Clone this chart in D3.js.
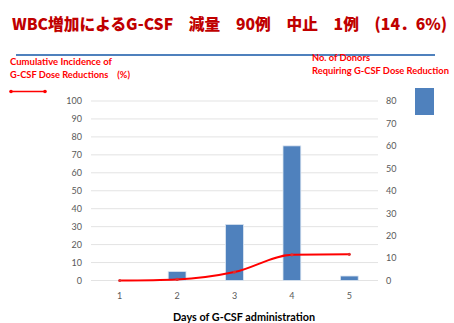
<!DOCTYPE html>
<html>
<head>
<meta charset="utf-8">
<script src="https://cdn.jsdelivr.net/npm/d3@7"></script>
<style>
  body { margin: 0; background: #fff; }
  text { font-family: Lato, "Open Sans", sans-serif; }
</style>
</head>
<body>
<script>
const days = ["1", "2", "3", "4", "5"];
const donors = [0, 4, 25, 60, 2];            // right axis, bars
const cumulative = [0, 0.6, 4.7, 14.3, 14.6]; // left axis, %
const leftTicks = [0, 10, 20, 30, 40, 50, 60, 70, 80, 90, 100];
const rightTicks = [0, 10, 20, 30, 40, 50, 60, 70, 80];

const w = 454, h = 323;
const plotLeft = 91, plotRight = 378, plotTop = 101, plotBottom = 280.5;

const svg = d3.select("body").append("svg")
    .attr("width", w)
    .attr("height", h);

// title + rule
svg.append("text")
    .attr("x", 12)
    .attr("y", 30)
    .attr("textLength", 435)
    .attr("lengthAdjust", "spacingAndGlyphs")
    .style("font-family", "'Noto Sans CJK JP', sans-serif")
    .style("font-size", "16px")
    .style("font-weight", "900")
    .style("fill", "#c00000")
    .text("WBC増加によるG-CSF　減量　90例　中止　1例　(14．6%)");

svg.append("line")
    .attr("x1", 16).attr("x2", 435)
    .attr("y1", 55).attr("y2", 55)
    .style("stroke", "#4f81bd")
    .style("stroke-width", 2);

const xScale = d3.scaleBand()
    .domain(days)
    .range([plotLeft, plotRight])
    .paddingInner(0.69)
    .paddingOuter(0.345);

const yLeft = d3.scaleLinear().domain([0, 100]).range([plotBottom, plotTop]);
const yRight = d3.scaleLinear().domain([0, 80]).range([plotBottom, plotTop]);

// gridlines
svg.append("g").selectAll("line")
    .data(leftTicks)
    .enter()
    .append("line")
    .attr("x1", plotLeft).attr("x2", plotRight)
    .attr("y1", d => yLeft(d)).attr("y2", d => yLeft(d))
    .style("stroke", "#e3e3e3")
    .style("stroke-width", 1);

const yAxisL = d3.axisLeft(yLeft).tickValues(leftTicks).tickSize(0).tickPadding(9);
const yAxisR = d3.axisRight(yRight).tickValues(rightTicks).tickSize(0).tickPadding(8);
const xAxis = d3.axisBottom(xScale).tickSize(0).tickPadding(12);

const gl = svg.append("g").attr("transform", "translate(" + plotLeft + ",0)").call(yAxisL);
const gr = svg.append("g").attr("transform", "translate(" + plotRight + ",0)").call(yAxisR);
const gx = svg.append("g").attr("transform", "translate(0," + plotBottom + ")").call(xAxis);
[gl, gr, gx].forEach(g => {
    g.select(".domain").remove();
    g.selectAll("text")
        .style("font-family", "Lato, sans-serif")
        .style("font-size", "9px")
        .style("fill", "#595959");
});

// bars
svg.append("g").selectAll("rect")
    .data(donors)
    .enter()
    .append("rect")
    .attr("x", (d, i) => xScale(days[i]))
    .attr("y", d => yRight(d))
    .attr("width", xScale.bandwidth())
    .attr("height", d => plotBottom - yRight(d))
    .style("fill", "#4f81bd")
    .style("stroke", d => d > 0 ? "#dbe5f1" : "none")
    .style("stroke-width", 0.8);

// cumulative line
const line = d3.line()
    .x((d, i) => xScale(days[i]) + xScale.bandwidth() / 2)
    .y(d => yLeft(d))
    .curve(d3.curveMonotoneX);

svg.append("path")
    .datum(cumulative)
    .attr("d", line)
    .style("fill", "none")
    .style("stroke", "#ff0000")
    .style("stroke-width", 2);

svg.append("g").selectAll("circle")
    .data(cumulative)
    .enter()
    .append("circle")
    .attr("cx", (d, i) => xScale(days[i]) + xScale.bandwidth() / 2)
    .attr("cy", d => yLeft(d))
    .attr("r", 1.6)
    .style("fill", "#e03030");

// left legend
const legL = svg.append("g").style("fill", "#ff0000").style("font-size", "9.5px").style("font-weight", "bold");
legL.append("text").attr("x", 10).attr("y", 65).attr("textLength", 102).attr("lengthAdjust", "spacingAndGlyphs")
    .text("Cumulative Incidence of");
legL.append("text").attr("x", 10).attr("y", 78).attr("textLength", 120).attr("lengthAdjust", "spacingAndGlyphs")
    .text("G-CSF Dose Reductions\u00a0\u00a0\u00a0\u00a0(%)");
svg.append("line")
    .attr("x1", 11).attr("x2", 45).attr("y1", 91.5).attr("y2", 91.5)
    .style("stroke", "#ff0000").style("stroke-width", 1.5);
[11, 45].forEach(x => svg.append("circle").attr("cx", x).attr("cy", 91.5).attr("r", 1.8).style("fill", "#ff0000"));

// right legend
const legR = svg.append("g").style("fill", "#ff0000").style("font-size", "9.5px").style("font-weight", "bold");
legR.append("text").attr("x", 312).attr("y", 61).attr("textLength", 58).attr("lengthAdjust", "spacingAndGlyphs")
    .text("No. of Donors");
legR.append("text").attr("x", 312).attr("y", 74).attr("textLength", 137).attr("lengthAdjust", "spacingAndGlyphs")
    .text("Requiring G-CSF Dose Reduction");
svg.append("rect")
    .attr("x", 415).attr("y", 88).attr("width", 19).attr("height", 27)
    .style("fill", "#4f81bd");

// x-axis title
svg.append("text")
    .attr("x", 244)
    .attr("y", 321)
    .attr("text-anchor", "middle")
    .attr("textLength", 142)
    .attr("lengthAdjust", "spacingAndGlyphs")
    .style("font-size", "10.5px")
    .style("font-weight", "bold")
    .style("fill", "#000")
    .text("Days of G-CSF administration");
</script>
</body>
</html>
